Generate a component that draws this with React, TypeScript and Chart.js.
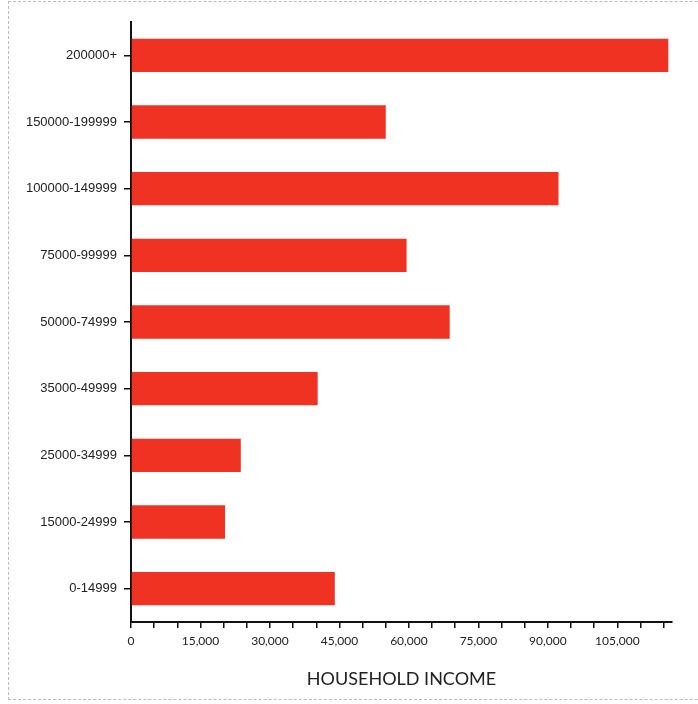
import React, { useEffect, useRef } from "react";
import { Chart, registerables } from "chart.js";

Chart.register(...registerables);

const categories = [
  "200000+",
  "150000-199999",
  "100000-149999",
  "75000-99999",
  "50000-74999",
  "35000-49999",
  "25000-34999",
  "15000-24999",
  "0-14999",
];
const households = [116000, 55000, 92300, 59500, 68800, 40300, 23700, 20300, 44000];
const axisMax = 116800;
const tickStep = 5000;
const lastTick = 115000;
const labelStep = 15000;
const axisTitle = "HOUSEHOLD INCOME";

export default function App() {
  const ref = useRef<HTMLCanvasElement | null>(null);
  useEffect(() => {
    if (!ref.current) return;
    const chart = new Chart(ref.current, {
      type: "bar",
      data: {
        labels: categories,
        datasets: [
          {
            data: households,
            backgroundColor: "#ef3222",
            borderWidth: 0,
            categoryPercentage: 1,
            barPercentage: 0.5,
          },
        ],
      },
      options: {
        indexAxis: "y",
        animation: false,
        responsive: false,
        devicePixelRatio: 1,
        layout: { padding: { top: 22, right: 26, left: 0, bottom: 0 } },
        plugins: { legend: { display: false }, tooltip: { enabled: false } },
        scales: {
          x: {
            type: "linear",
            min: 0,
            max: axisMax,
            afterBuildTicks: (s: any) => {
              const t: { value: number }[] = [];
              for (let v = 0; v <= lastTick; v += tickStep) t.push({ value: v });
              s.ticks = t;
            },
            afterFit: (s: any) => {
              s.height = 82;
            },
            border: { color: "#111", width: 2 },
            grid: { drawOnChartArea: false, color: "#111", lineWidth: 1.5, tickLength: 6 },
            ticks: {
              autoSkip: false,
              maxRotation: 0,
              padding: 6,
              color: "#222",
              font: { family: "Lato", size: 12 },
              callback: (v: any) =>
                Number(v) % labelStep === 0 ? Number(v).toLocaleString("en-US") : "",
            },
            title: {
              display: true,
              text: axisTitle,
              color: "#222",
              font: { family: "Lato", size: 18 },
              padding: { top: 0, bottom: 14 },
            },
          },
          y: {
            type: "category",
            afterFit: (s: any) => {
              s.width = 131;
            },
            border: { color: "#111", width: 2 },
            grid: { drawOnChartArea: false, offset: false, color: "#111", lineWidth: 1.5, tickLength: 7 },
            ticks: {
              padding: 7,
              color: "#222",
              font: { family: "Liberation Sans", size: 13 },
            },
          },
        },
      },
    });
    return () => chart.destroy();
  }, []);
  return (
    <>
      <div
        style={{
          position: "fixed",
          left: 8,
          top: 1,
          width: 800,
          height: 699,
          boxSizing: "border-box",
          border: "1px dashed #bbb",
        }}
      />
      <canvas
        ref={ref}
        width={698}
        height={704}
        style={{ position: "fixed", left: 0, top: 0, width: 698, height: 704 }}
      />
    </>
  );
}
